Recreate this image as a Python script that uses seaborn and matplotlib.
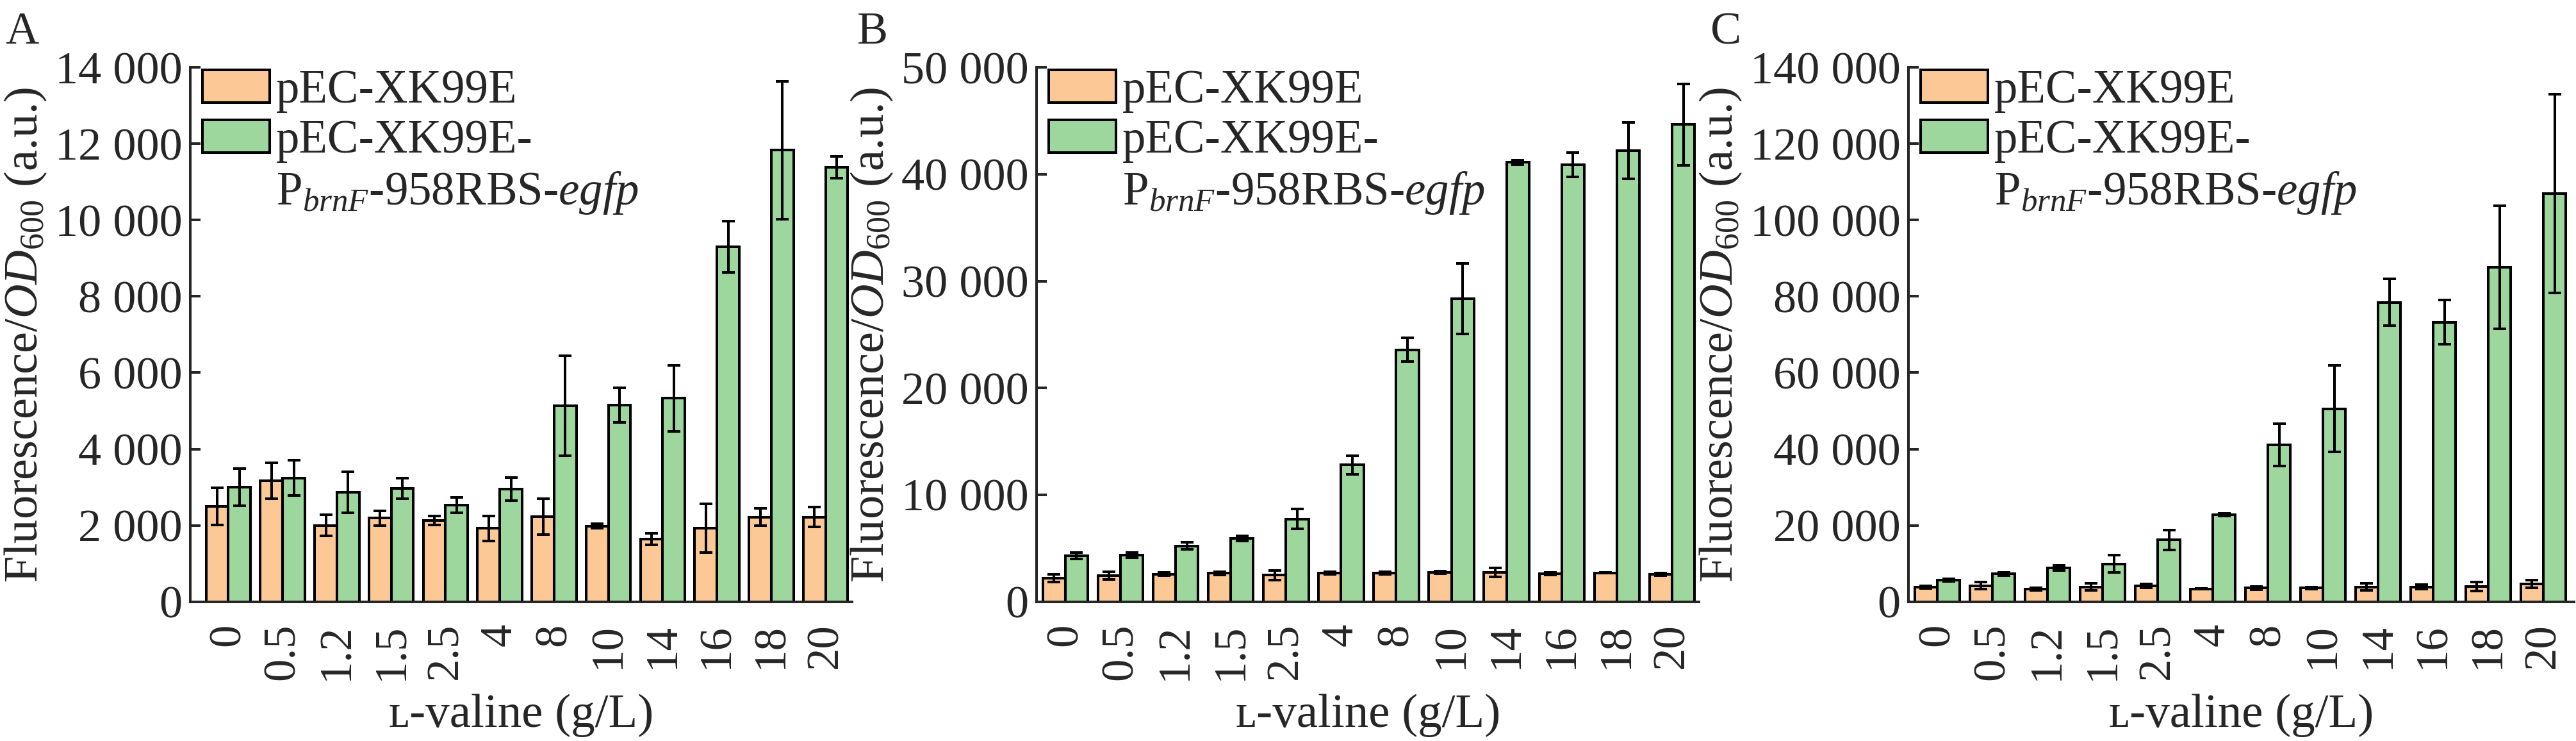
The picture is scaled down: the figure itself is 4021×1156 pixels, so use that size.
import numpy as np
import pandas as pd
import seaborn as sns
import matplotlib.pyplot as plt
from matplotlib.patches import Patch

# categories (L-valine, g/L)
valine = ['0', '0.5', '1.2', '1.5', '2.5', '4', '8', '10', '14', '16', '18', '20']
strains = ['pEC-XK99E', 'pEC-XK99E-']
extra_line = r'$\mathrm{P}_{\mathit{brnF}}$-958RBS-$\mathit{egfp}$'

# panel A
a_ctrl = [2500, 3170, 2000, 2190, 2130, 1920, 2230, 1980, 1640, 1930, 2220, 2220]
a_ctrl_sd = [490, 470, 280, 195, 120, 325, 470, 60, 145, 640, 230, 265]
a_egfp = [3000, 3240, 2870, 2970, 2530, 2950, 5130, 5150, 5330, 9300, 11830, 11380]
a_egfp_sd = [480, 465, 540, 270, 205, 300, 1310, 460, 860, 670, 1810, 290]

# panel B
b_ctrl = [2210, 2430, 2570, 2650, 2480, 2650, 2650, 2740, 2740, 2610, 2700, 2570]
b_ctrl_sd = [350, 350, 150, 150, 440, 120, 120, 100, 440, 100, 50, 120]
b_egfp = [4290, 4340, 5220, 5930, 7740, 12790, 23580, 28360, 41110, 40890, 42210, 44650]
b_egfp_sd = [310, 250, 310, 250, 930, 860, 1130, 3300, 220, 1150, 2650, 3800]

# panel C
c_ctrl = [3840, 4210, 3350, 3840, 4210, 3350, 3590, 3590, 3840, 3840, 3970, 4710]
c_ctrl_sd = [300, 870, 300, 930, 500, 100, 450, 250, 930, 600, 1180, 1000]
c_egfp = [5700, 7310, 8800, 9910, 16230, 22800, 41140, 50560, 78440, 73230, 87610, 106940]
c_egfp_sd = [300, 400, 700, 2230, 2600, 300, 5580, 11300, 6130, 5820, 16100, 26000]

y_max = [14000, 50000, 140000]
y_step = [2000, 10000, 20000]
panel_letters = ['A', 'B', 'C']

orange = '#FCC896'
green = '#9ED79E'

sns.set_style('ticks')
plt.rcParams['font.family'] = ['Liberation Serif', 'DejaVu Serif']
plt.rcParams['mathtext.fontset'] = 'custom'
plt.rcParams['mathtext.rm'] = 'Liberation Serif'
plt.rcParams['mathtext.it'] = 'Liberation Serif:italic'
plt.rcParams['mathtext.bf'] = 'Liberation Serif:bold'

fig = plt.figure(figsize=(40.21, 11.56), dpi=100)

lefts = [0.0739, 0.4024, 0.7409]
widths = [0.2569, 0.2572, 0.2584]
xlims = [(-0.70, 11.49), (-0.52, 11.49), (-0.52, 11.56)]
letter_x = [0.002, 0.3328, 0.664]

panels = [(a_ctrl, a_ctrl_sd, a_egfp, a_egfp_sd),
          (b_ctrl, b_ctrl_sd, b_egfp, b_egfp_sd),
          (c_ctrl, c_ctrl_sd, c_egfp, c_egfp_sd)]

lw = 2.9

for i, (ctrl, ctrl_sd, egfp, egfp_sd) in enumerate(panels):
    ax = fig.add_axes([lefts[i], 0.188, widths[i], 0.721])
    df = pd.DataFrame({
        'valine': valine * 2,
        'value': ctrl + egfp,
        'strain': [strains[0]] * len(valine) + [strains[1]] * len(valine),
    })
    sns.barplot(data=df, x='valine', y='value', hue='strain', order=valine,
                hue_order=strains, palette=[orange, green], saturation=1,
                width=0.82, errorbar=None, edgecolor='black', linewidth=lw,
                legend=False, ax=ax)

    # error bars at the bar centres
    for cont, sds in zip(ax.containers, [ctrl_sd, egfp_sd]):
        xs = [p.get_x() + p.get_width() / 2 for p in cont]
        hs = [p.get_height() for p in cont]
        ax.errorbar(xs, hs, yerr=sds, fmt='none', ecolor='black',
                    elinewidth=lw, capsize=7, capthick=lw, zorder=3)

    ax.set_xlim(*xlims[i])
    ax.set_ylim(0, y_max[i])
    ticks = np.arange(0, y_max[i] + 1, y_step[i])
    ax.set_yticks(ticks)
    ax.set_yticklabels([f'{int(t):,}'.replace(',', ' ') for t in ticks])

    for s in ['top', 'right']:
        ax.spines[s].set_visible(False)
    for s in ['left', 'bottom']:
        ax.spines[s].set_linewidth(lw)

    ax.tick_params(axis='y', direction='in', length=11.5, width=lw, pad=9, labelsize=52)
    ax.tick_params(axis='x', length=0, pad=24, labelsize=51, labelrotation=90)
    ax.set_xlabel('ʟ-valine (g/L)', fontsize=54, labelpad=16)
    ax.set_ylabel(r'Fluorescence/$\mathit{OD}_{600}$ (a.u.)', fontsize=53.5, labelpad=7)

    handles = [ax.containers[0], ax.containers[1],
               Patch(facecolor='none', edgecolor='none')]
    ax.legend(handles, strains + [extra_line], loc='upper left',
              bbox_to_anchor=(0.018, 0.996), frameon=False, fontsize=52.5,
              handlelength=1.44, handleheight=0.7, handletextpad=0.14,
              labelspacing=0.15, borderpad=0, borderaxespad=0)

    fig.text(letter_x[i], 0.984, panel_letters[i], fontsize=52, ha='left', va='top')

fig.savefig('out.png', dpi=100)
